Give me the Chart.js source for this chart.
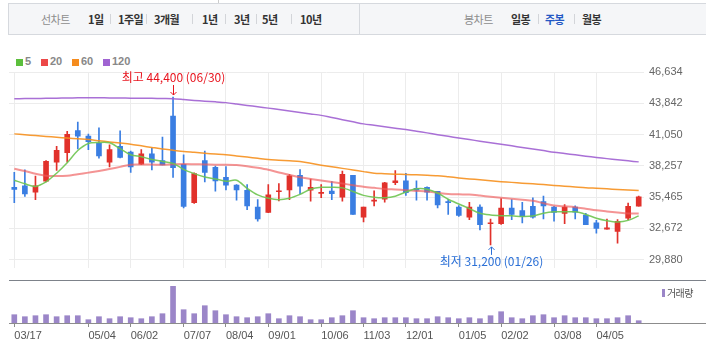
<!DOCTYPE html>
<html>
<head>
<meta charset="utf-8">
<script src="https://cdn.jsdelivr.net/npm/chart.js@4.4.1/dist/chart.umd.min.js"></script>
<style>
body { margin:0; width:706px; height:354px; overflow:hidden; background:#fff; position:relative; font-family:"Noto Sans CJK KR", "Noto Sans", sans-serif; }
.abs { position:absolute; }
#tabs { left:8px; top:3px; width:698px; height:30px; background:#f5f6f8; border:1px solid #d6d9de; border-right:none; }
.t { position:absolute; top:4px; line-height:30px; font-size:11px; letter-spacing:-0.5px; color:#333; font-weight:bold; white-space:nowrap; }
.g { color:#8d8d8d; font-weight:normal; }
.sep { position:absolute; top:14px; width:1px; height:10px; background:#d3d5d9; }
.lg { position:absolute; top:55px; font:bold 11px "Liberation Sans", sans-serif; color:#888; line-height:13px; }
.sq { position:absolute; top:59px; width:7px; height:7px; }
canvas { position:absolute; left:0; }
</style>
</head>
<body>
<div id="tabs" class="abs"></div>
<div class="abs" style="left:218px;top:0;width:1px;height:3px;background:#ccc"></div>
<div class="abs" style="left:359px;top:4px;width:1px;height:30px;background:#d6d9de"></div>
<span class="t g" style="left:41px">선차트</span>
<span class="t" style="left:88px">1일</span>
<span class="sep" style="left:110px"></span>
<span class="t" style="left:118px">1주일</span>
<span class="sep" style="left:146px"></span>
<span class="t" style="left:154px">3개월</span>
<span class="sep" style="left:192px"></span>
<span class="t" style="left:202px">1년</span>
<span class="sep" style="left:225px"></span>
<span class="t" style="left:234px">3년</span>
<span class="sep" style="left:256px"></span>
<span class="t" style="left:262px">5년</span>
<span class="sep" style="left:291px"></span>
<span class="t" style="left:300px">10년</span>
<span class="t g" style="left:464px">봉차트</span>
<span class="t" style="left:511px">일봉</span>
<span class="sep" style="left:538px"></span>
<span class="t" style="left:545px;color:#2458c4">주봉</span>
<span class="sep" style="left:574px"></span>
<span class="t" style="left:582px">월봉</span>

<span class="sq" style="left:16px;background:#5cbf3c"></span><span class="lg" style="left:25px">5</span>
<span class="sq" style="left:41px;background:#ec4848"></span><span class="lg" style="left:50px">20</span>
<span class="sq" style="left:72px;background:#f58c1e"></span><span class="lg" style="left:81px">60</span>
<span class="sq" style="left:103px;background:#a064d2"></span><span class="lg" style="left:112px">120</span>

<canvas id="price" width="706" height="240" style="top:40px"></canvas>
<div class="abs" style="left:9px;top:280px;width:697px;height:1px;background:#7d828a"></div>
<canvas id="vol" width="706" height="73" style="top:281px"></canvas>
<div class="abs" style="left:9px;top:323px;width:697px;height:1px;background:#8c8c8c"></div>
<span class="abs" style="left:662px;top:289px;width:3px;height:8px;background:#9b86c8"></span>
<span class="abs" style="left:667px;top:286px;font-size:10px;letter-spacing:-0.6px;color:#555;line-height:13px">거래량</span>

<script>
var labels = ['03/17','03/24','03/31','04/07','04/14','04/21','04/28','05/04','05/12','05/19',
  '05/26','06/02','06/09','06/16','06/23','06/30','07/07','07/14','07/21','07/28',
  '08/04','08/11','08/18','08/25','09/01','09/08','09/15','09/22','09/29','10/06',
  '10/13','10/20','10/27','11/03','11/10','11/17','11/24','12/01','12/08','12/15',
  '12/22','12/29','01/05','01/12','01/19','01/26','02/02','02/09','02/16','02/23',
  '03/02','03/08','03/15','03/22','03/29','04/05','04/12','04/19','04/26','05/03']
var tickLabels = ['03/17','05/04','06/02','07/07','08/04','09/01','10/06','11/03','12/01','01/05','02/02','03/08','04/05']
var priceTicks = [29880, 32672, 35465, 38257, 41050, 43842, 46634]

var openP = [36330,36470,35910,36890,38590,39430,41410,40910,40270,38590,
  39990,39490,38400,39320,38730,42700,38400,34960,38730,38120,
  37220,36530,36080,34570,34100,35940,36110,37420,36080,35800,
  36000,35470,37420,33680,35100,35270,36750,36920,36250,36330,
  35970,35070,34570,33670,34570,33090,33090,34490,34260,34650,
  35070,34570,34010,34570,33870,33170,32610,32410,33590,34650]
var highP = [37670,37890,37340,38730,39990,41330,42170,41100,41660,40130,
  41380,39570,39710,39850,40830,44400,39230,37640,39570,38230,
  38200,36580,36580,35240,36580,36670,37500,37920,37080,36580,
  36860,37780,37420,34570,36020,36780,37840,37590,36920,36390,
  35970,35240,34710,34990,34770,33510,35330,35240,34990,35410,
  35550,34650,34790,34680,34010,33390,33510,33450,34930,35550]
var lowP = [34960,35520,35240,36830,37840,38590,39770,39710,38930,38170,
  38960,37670,38370,37890,38340,37220,34490,34910,36830,36000,
  36110,35190,34350,33320,34070,35130,35240,35740,35100,35410,
  35240,35100,33930,33260,34680,35020,36580,35610,35190,35190,
  34510,33930,33730,33450,32530,31200,33030,33450,33170,33590,
  33510,33310,33090,33510,33000,32250,32610,31350,33450,34650]
var closeP = [36160,35740,36470,38650,39650,41080,40910,40410,39150,39710,
  39010,38170,39320,38590,38340,38090,34630,37560,37670,36920,
  36530,36110,34680,33510,35660,36000,37360,36440,36330,35860,
  35770,37500,33930,34570,35160,36750,36920,35860,36090,35910,
  34770,34960,33840,34570,33000,33140,34490,33930,33730,33670,
  34680,34090,34570,34120,33000,32670,32720,33310,34650,35490]

var ma5 = [36970,36650,36420,36820,37600,38530,39620,40250,40340,40310,
  39790,39240,39070,38820,38650,38480,37940,37560,37260,37090,
  36880,36970,36250,35660,35370,35240,35370,35710,36170,36340,
  36340,36290,35970,35620,35450,35410,35550,35920,36210,36170,
  35830,35270,34850,34440,34020,33870,33810,33790,33730,33770,
  34020,34150,34150,34150,33920,33580,33360,33250,33390,33790]
var ma20 = [37995,37793,37550,37372,37340,37372,37515,37650,37793,37980,
  38163,38357,38370,38370,38357,38390,38416,38400,38380,38357,
  38357,38330,38230,38079,37900,37658,37450,37237,37090,36951,
  36810,36673,36530,36395,36290,36193,36140,36083,36020,35958,
  35850,35747,35710,35688,35600,35500,35410,35320,35230,35132,
  34920,34711,34640,34568,34430,34290,34190,34090,34004,34004]
var ma60 = [41110,41030,40960,40883,40810,40740,40670,40605,40500,40390,
  40290,40184,40040,39900,39763,39650,39536,39460,39380,39310,
  39240,39140,39040,38930,38820,38760,38700,38635,38480,38315,
  38170,38030,37894,37740,37599,37560,37515,37480,37450,37420,
  37372,37280,37178,37090,37010,36920,36841,36780,36710,36650,
  36589,36510,36440,36370,36300,36252,36200,36150,36100,36058]
var ma120 = [44251,44260,44270,44285,44300,44315,44330,44335,44330,44320,
  44310,44300,44290,44280,44265,44251,44180,44100,44030,43973,
  43900,43780,43650,43530,43409,43280,43150,43020,42890,42761,
  42570,42380,42190,42003,41880,41750,41620,41498,41350,41200,
  41040,40890,40740,40600,40460,40320,40184,40040,39900,39760,
  39620,39477,39360,39240,39120,39005,38900,38800,38700,38610]

// 거래량 (천주)
var volume = [83,63,73,83,63,73,73,33,63,43,
  63,53,43,63,93,367,133,93,173,123,
  83,63,53,63,93,43,73,63,33,33,
  53,73,123,53,43,53,53,53,43,43,
  63,53,43,53,43,73,113,53,43,73,
  83,53,73,53,53,43,43,53,73,23]

var UP = '#e1312b', DOWN = '#3a7ee2'
var colors = [], bodies = [], wicks = []
for (let i = 0; i < labels.length; i++) {
  colors.push(closeP[i] >= openP[i] ? UP : DOWN)
  bodies.push([openP[i], closeP[i]])
  wicks.push([lowP[i], highP[i]])
}

function filterTicks(scale) {
  scale.ticks = scale.ticks.filter(t => tickLabels.indexOf(labels[t.value]) >= 0)
}

function arrow(ctx, x, from, to) {
  var d = to > from ? -3 : 3
  ctx.beginPath()
  ctx.moveTo(x, from)
  ctx.lineTo(x, to)
  ctx.moveTo(x - 3, to + d)
  ctx.lineTo(x, to)
  ctx.lineTo(x + 3, to + d)
  ctx.stroke()
}

var marks = {
  id: 'marks',
  afterDatasetsDraw(chart) {
    var ctx = chart.ctx, xs = chart.scales.x, ys = chart.scales.y
    var hi = highP.indexOf(Math.max(...highP))
    var lo = lowP.indexOf(Math.min(...lowP))
    ctx.save()
    ctx.font = '12px "Noto Sans CJK KR"'
    ctx.textAlign = 'center'
    ctx.textBaseline = 'middle'
    ctx.lineWidth = 1

    var hx = Math.round(xs.getPixelForValue(hi)) + 0.5
    var hy = ys.getPixelForValue(highP[hi])
    ctx.fillStyle = ctx.strokeStyle = '#e8141e'
    ctx.fillText('최고 ' + highP[hi].toLocaleString('en-US') + ' (' + labels[hi] + ')', hx, hy - 20)
    arrow(ctx, hx, hy - 12, hy - 2)

    var lx = Math.round(xs.getPixelForValue(lo)) + 0.5
    var ly = ys.getPixelForValue(lowP[lo])
    ctx.fillStyle = ctx.strokeStyle = '#2a6fd6'
    ctx.fillText('최저 ' + lowP[lo].toLocaleString('en-US') + ' (' + labels[lo] + ')', lx, ly + 17)
    arrow(ctx, lx, ly + 10, ly + 2)
    ctx.restore()
  }
}

function maLine(data, color, width) {
  return {type: 'line', data: data, borderColor: color, borderWidth: width, pointRadius: 0, tension: 0.3, order: 1}
}

new Chart(document.getElementById('price'), {
  type: 'bar',
  data: {
    labels: labels,
    datasets: [
      maLine(ma5, 'rgba(110,196,80,0.9)', 1.5),
      maLine(ma20, 'rgba(238,90,90,0.65)', 2),
      maLine(ma60, 'rgba(246,144,30,0.9)', 1.5),
      maLine(ma120, 'rgba(160,96,210,0.9)', 1.5),
      {data: bodies, backgroundColor: colors, barThickness: 5, grouped: false, minBarLength: 1, order: 2},
      {data: wicks, backgroundColor: colors, barThickness: 1, grouped: false, order: 3}
    ]
  },
  options: {
    responsive: false,
    animation: false,
    devicePixelRatio: 1,
    layout: {padding: {left: 9, top: 32, right: 0, bottom: 0}},
    plugins: {legend: {display: false}, tooltip: {enabled: false}},
    scales: {
      x: {
        offset: true,
        grid: {offset: false, color: '#ececec', drawTicks: false},
        border: {display: false},
        ticks: {display: false, autoSkip: false},
        afterBuildTicks: filterTicks
      },
      y: {
        position: 'right',
        min: 29100,
        max: 46634,
        afterBuildTicks: s => { s.ticks = priceTicks.map(v => ({value: v})) },
        afterFit: s => { s.width = 62 },
        grid: {color: '#ececec', drawTicks: false},
        border: {display: false},
        ticks: {padding: 5, color: '#666', font: {family: 'Liberation Sans', size: 11},
          callback: v => v.toLocaleString('en-US')}
      }
    }
  },
  plugins: [marks]
})

new Chart(document.getElementById('vol'), {
  type: 'bar',
  data: {
    labels: labels,
    datasets: [{data: volume, backgroundColor: '#9b86c8', barThickness: 5}]
  },
  options: {
    responsive: false,
    animation: false,
    devicePixelRatio: 1,
    layout: {padding: {left: 9, right: 62, top: 0, bottom: 0}},
    plugins: {legend: {display: false}, tooltip: {enabled: false}},
    scales: {
      x: {
        offset: true,
        grid: {offset: false, drawOnChartArea: false, drawTicks: true, tickLength: 4, color: '#8c8c8c'},
        border: {display: false},
        ticks: {autoSkip: false, maxRotation: 0, align: 'start', padding: 2, color: '#555',
          font: {family: 'Liberation Sans', size: 11}},
        afterBuildTicks: filterTicks,
        afterFit: s => { s.height = 31 }
      },
      y: {display: false, min: 0, max: 420}
    }
  }
})
</script>
</body>
</html>
